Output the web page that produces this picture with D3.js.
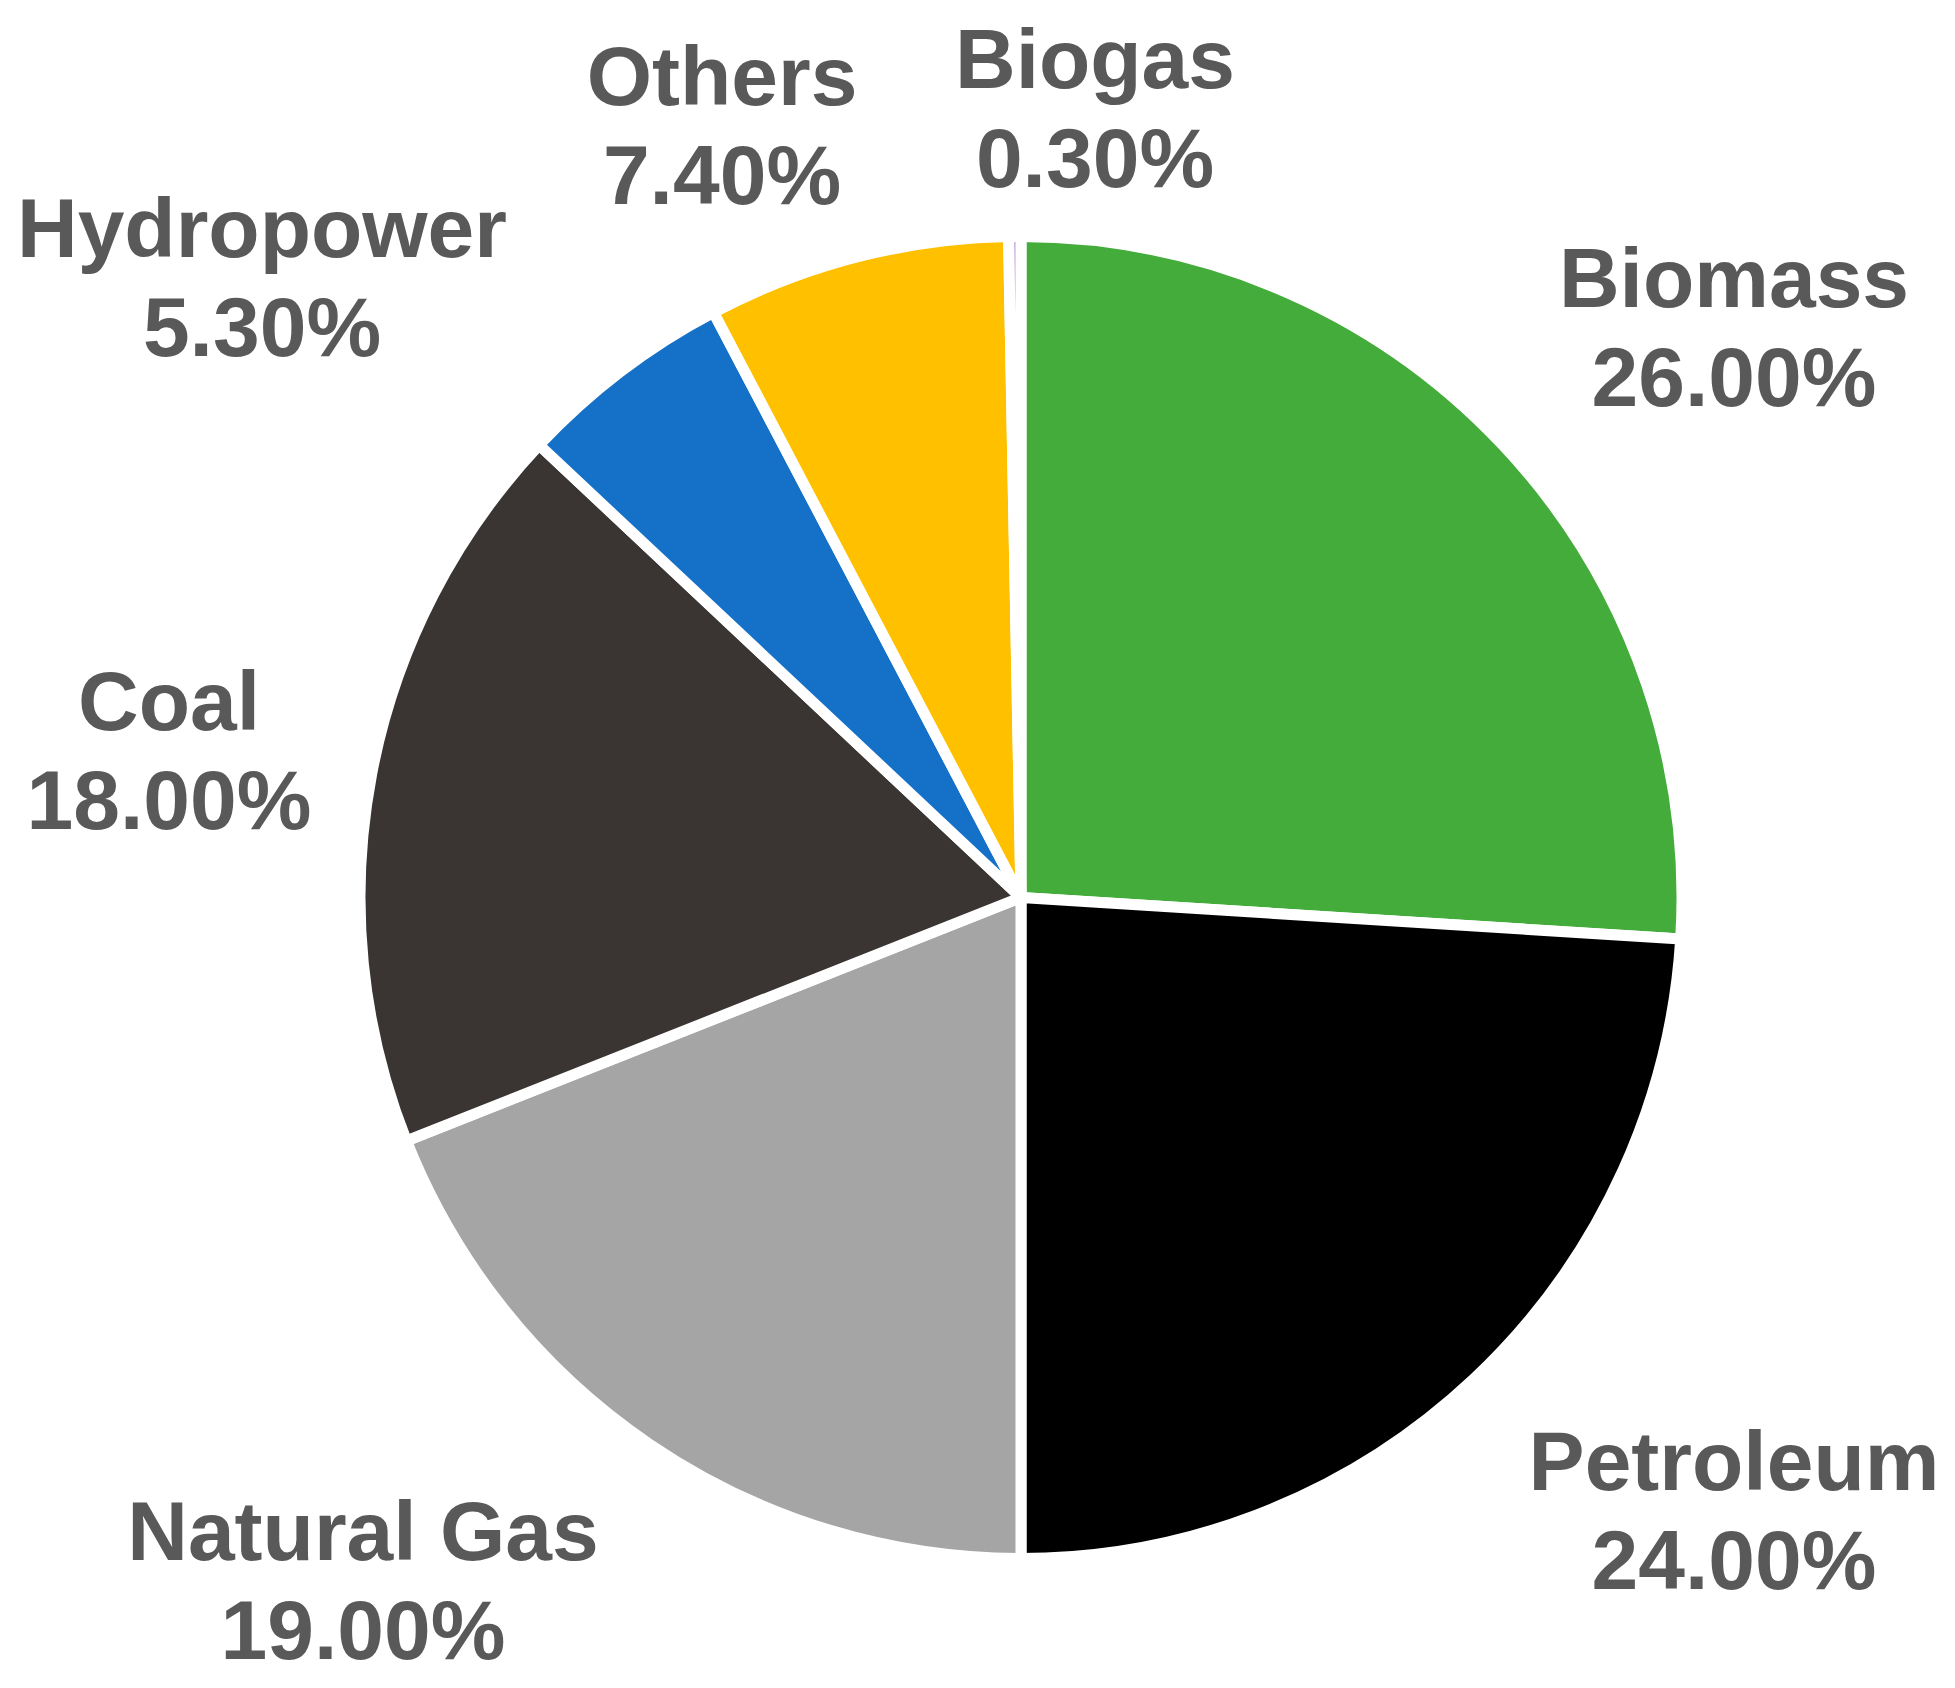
<!DOCTYPE html>
<html>
<head>
<meta charset="utf-8">
<script src="https://cdn.jsdelivr.net/npm/d3@7"></script>
<style>
  html, body { margin: 0; padding: 0; background: #ffffff; }
  svg { display: block; }
</style>
</head>
<body>
<svg id="chart" width="1955" height="1688"></svg>
<script>
// ---- data ----
const categories = ["Biomass", "Petroleum", "Natural Gas", "Coal", "Hydropower", "Others", "Biogas"];
const values = [26.0, 24.0, 19.0, 18.0, 5.3, 7.4, 0.3];
const valueLabels = ["26.00%", "24.00%", "19.00%", "18.00%", "5.30%", "7.40%", "0.30%"];
const colors = ["#43ac3a", "#000000", "#a5a5a5", "#3a3533", "#1570c8", "#ffc000", "#c9a0dc"];

// ---- layout (label centres, first-line baseline) ----
const labelPos = [
  [1734, 307],   // Biomass
  [1734, 1490],  // Petroleum
  [363, 1560],   // Natural Gas
  [169, 730],    // Coal
  [262, 257],    // Hydropower
  [722, 105],    // Others
  [1095, 88]     // Biogas
];

const cx = 1021, cy = 897.5, radius = 661;
const svg = d3.select("#chart");

const data = categories.map((c, i) => ({ name: c, value: values[i], label: valueLabels[i], color: colors[i], pos: labelPos[i] }));

const pie = d3.pie().sort(null).value(d => d.value).startAngle(0).endAngle(2 * Math.PI);
const arc = d3.arc().innerRadius(0).outerRadius(radius);

const g = svg.append("g").attr("transform", `translate(${cx},${cy})`);
g.selectAll("path.slice")
  .data(pie(data))
  .join("path")
  .attr("class", "slice")
  .attr("d", arc)
  .attr("fill", d => d.data.color)
  .attr("stroke", "#ffffff")
  .attr("stroke-width", 11)
  .attr("stroke-linejoin", "round");

const labels = svg.append("g")
  .attr("font-family", "'Liberation Sans', Arial, sans-serif")
  .attr("font-weight", "bold")
  .attr("font-size", 84)
  .attr("fill", "#595959")
  .attr("text-anchor", "middle");

labels.selectAll("text")
  .data(data)
  .join("text")
  .attr("x", d => d.pos[0])
  .attr("y", d => d.pos[1])
  .each(function(d) {
    const t = d3.select(this);
    t.append("tspan").attr("x", d.pos[0]).text(d.name);
    t.append("tspan").attr("x", d.pos[0]).attr("dy", 99).text(d.label);
  });
</script>
</body>
</html>
